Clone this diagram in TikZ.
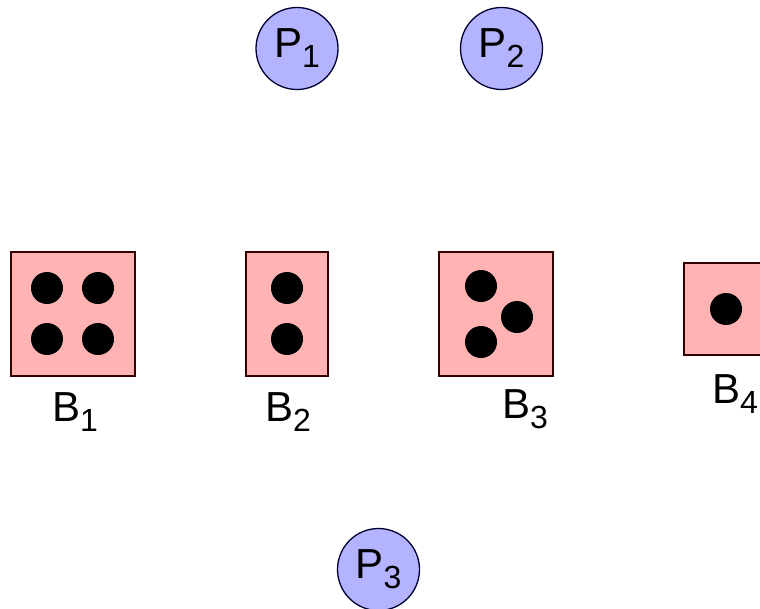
\documentclass[tikz,border=0pt]{standalone}
\usepackage{fontspec}
\setmainfont{Liberation Sans}
\definecolor{boxfill}{RGB}{255,179,179}
\definecolor{boxline}{RGB}{51,0,0}
\definecolor{procfill}{RGB}{179,179,255}
\definecolor{procline}{RGB}{0,0,51}
\newcommand\lbsub[2]{#1\raisebox{-10pt}{\fontsize{32}{32}\selectfont #2}}
\begin{document}
\begin{tikzpicture}[x=1pt,y=-1pt,
  proc/.style={circle,draw=procline,fill=procfill,line width=1.3pt,minimum size=82pt,inner sep=0pt,
    font=\fontsize{42}{42}\selectfont},
  bucket/.style={rectangle,draw=boxline,fill=boxfill,line width=1.3pt,inner sep=0pt},
  lbl/.style={anchor=base,inner sep=0pt,font=\fontsize{42}{42}\selectfont},
  dot/.style={fill=black}]
\useasboundingbox (0,0) rectangle (760,608);
% processes
\node[proc] (p1) at (297,48.5) {\raisebox{-3.5pt}{\lbsub{P}{1}}};
\node[proc] (p2) at (501.5,48.5) {\raisebox{-3.5pt}{\lbsub{P}{2}}};
\node[proc] (p3) at (378.5,569.5) {\raisebox{-3.5pt}{\lbsub{P}{3}}};
% buckets
\node[bucket,minimum width=124pt,minimum height=124pt] (b1) at (73,314) {};
\node[bucket,minimum width=82pt,minimum height=124pt] (b2) at (287,314) {};
\node[bucket,minimum width=114pt,minimum height=124pt] (b3) at (496,314) {};
\node[bucket,minimum width=86pt,minimum height=92pt] (b4) at (727,309) {};
% dots
\fill[dot] (47,288) circle (16) (98,288) circle (16) (47,339) circle (16) (98,339) circle (16);
\fill[dot] (287,288) circle (16) (287,339) circle (16);
\fill[dot] (481,286) circle (16) (517,317) circle (16) (481,342) circle (16);
\fill[dot] (726,309) circle (16);
% labels
\node[lbl] (l1) at (75,421) {\lbsub{B}{1}};
\node[lbl] (l2) at (288,421) {\lbsub{B}{2}};
\node[lbl] (l3) at (525,418) {\lbsub{B}{3}};
\node[lbl] (l4) at (735,403) {\lbsub{B}{4}};
\end{tikzpicture}
\end{document}
